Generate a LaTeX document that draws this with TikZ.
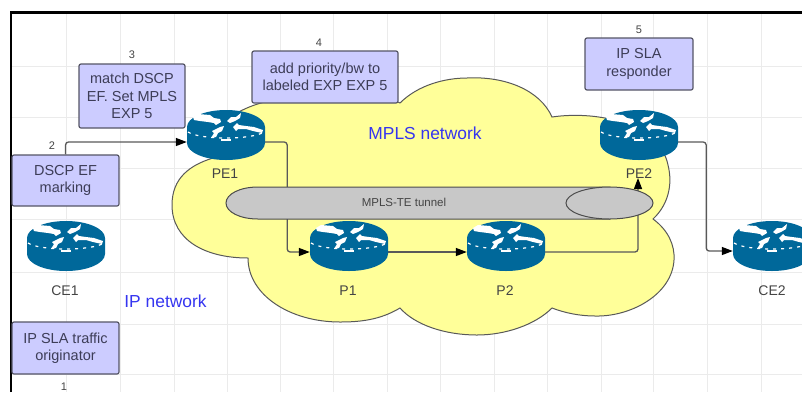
\documentclass[tikz,border=0pt]{standalone}
\usepackage{fontspec}
\setmainfont{Liberation Sans}
\usetikzlibrary{arrows.meta,calc}
\definecolor{routerblue}{HTML}{00689A}
\definecolor{boxfill}{HTML}{CCCCFF}
\definecolor{boxline}{HTML}{555566}
\definecolor{cloudfill}{HTML}{FFFF99}
\definecolor{tunnelfill}{HTML}{C8C8C8}
\definecolor{netblue}{HTML}{3535F0}
\definecolor{labelgrey}{HTML}{444444}
\definecolor{gridgrey}{HTML}{EBEBEB}
\tikzset{
  notebox/.style={draw=boxline,fill=boxfill,line width=1.2pt,rounded corners=2pt,inner sep=0pt,align=center,text=labelgrey!90!blue,font=\fontsize{14.5}{17.2}\selectfont},
  devlabel/.style={text=labelgrey,font=\fontsize{14}{16}\selectfont,inner sep=0pt},
  stepnum/.style={text=labelgrey,font=\fontsize{11}{13}\selectfont,inner sep=0pt},
  netlabel/.style={text=netblue,font=\fontsize{17.4}{20}\selectfont,inner sep=0pt},
  routerslot/.style={minimum width=78pt,minimum height=50pt,inner sep=0pt},
  conn/.style={draw=black!65,line width=1.3pt,rounded corners=3pt,-{Triangle[length=11pt,width=8pt,black]}},
  routericon/.pic={
    \fill[routerblue] (-39,-8) .. controls (-39,-17.4) and (-21.5,-25) .. (0,-25)
      .. controls (21.5,-25) and (39,-17.4) .. (39,-8) -- (39,8)
      .. controls (39,17.4) and (21.5,25) .. (0,25)
      .. controls (-21.5,25) and (-39,17.4) .. (-39,8) -- cycle;
    \fill[white] (-33,-18) -- (-28,-21) -- (-16,-20) -- (-12,-17) -- (-6,-16) -- (-5,-13) -- (-10,-10) -- (-12,-12) -- (-18,-13) -- (-26,-14) -- (-32,-15) -- cycle;
    \fill[white] (1,-14) -- (5,-18) -- (10,-18) -- (15,-22) -- (14,-17) -- (9,-14) -- (4,-12) -- cycle;
    \fill[white] (7,-8) -- (11,-12) -- (13,-10) -- (20,-9) -- (28,-8) -- (37,-5) -- (36,-2) -- (27,-4) -- (20,-6) -- (12,-6) -- (10,-4) -- cycle;
    \fill[white] (-15,3) -- (-12,-2) -- (-14,-4) -- (-6,-8) -- (-2,-9) -- (-4,-4) -- (-8,-2) -- (-10,2) -- cycle;
    \draw[white,line width=1.2pt,dash pattern=on 3pt off 5pt] (-38,-3) .. controls (-26,5) and (26,5) .. (38,-3);
    \fill[white] (-5,3.5) -- (5,3.5) -- (5,5.5) -- (-5,5.5) -- cycle;
  }
}
\begin{document}
\begin{tikzpicture}[x=1pt,y=-1pt]
\useasboundingbox (0,0) rectangle (802,392);
\clip (0,0) rectangle (802,392);
% grid
\foreach \gx in {66,120,174,227,280,333,387,440,494,547,601,653,707,761}
  \draw[gridgrey,line width=1pt] (\gx,12) -- (\gx,392);
\foreach \gy in {66,117,168,219,272,324,374}
  \draw[gridgrey,line width=1pt] (11,\gy) -- (802,\gy);
% frame
\draw[black,line width=2.4pt] (11,392) -- (11,12.5) -- (802,12.5);
% cloud
\draw[fill=cloudfill,draw=black!65,line width=1pt]
  (400,103) .. controls (418,85) and (445,78) .. (467,78)
  .. controls (505,76) and (540,90) .. (552,117)
  .. controls (600,110) and (660,125) .. (668,165)
  .. controls (673,185) and (668,205) .. (653,219)
  .. controls (668,230) and (675,245) .. (674,260)
  .. controls (672,295) and (630,317) .. (595,316)
  .. controls (580,316) and (565,313) .. (552,308)
  .. controls (535,325) and (505,335) .. (477,335)
  .. controls (445,335) and (415,325) .. (400,308)
  .. controls (380,320) and (360,322) .. (340,322)
  .. controls (290,322) and (248,295) .. (248,258)
  .. controls (205,258) and (172,240) .. (172,205)
  .. controls (172,178) and (190,165) .. (213,158)
  .. controls (200,130) and (240,105) .. (275,100)
  .. controls (300,92) and (370,88) .. (400,103) -- cycle;
% router slots
\node[routerslot] (pe1) at (226,135) {};
\node[routerslot] (pe2) at (639,135) {};
\node[routerslot] (ce1) at (66,246) {};
\node[routerslot] (ce2) at (772,246) {};
\node[routerslot] (p1) at (349,246) {};
\node[routerslot] (p2) at (506,246) {};
\coordinate (pe2in) at (638,178);
\node[notebox,minimum width=107pt,minimum height=51pt] (b2) at (65.5,180.5) {DSCP EF\\marking};
% connectors
\draw[conn] (b2.north) |- ([yshift=-7pt]pe1.west);
\draw[conn] ([yshift=-7pt]pe1.east) -- ++(22,0) |- ([yshift=-6pt]p1.west);
\draw[conn] ([yshift=-6pt]p1.east) -- ([yshift=-6pt]p2.west);
\draw[conn] ([yshift=-6pt]p2.east) -| (pe2in);
\draw[conn] ([yshift=-7pt]pe2.east) -- ++(28,0) |- ([yshift=-5pt]ce2.west);
% tunnel
\draw[fill=tunnelfill,draw=black!70,line width=1pt]
  (258,187) -- (610,187) -- (610,219) -- (258,219)
  .. controls (240,219) and (226,212) .. (226,203)
  .. controls (226,194) and (240,187) .. (258,187) -- cycle;
\draw[fill=tunnelfill,draw=black!70,line width=1pt] (609.5,203) ellipse [x radius=43.5,y radius=16];
\node[text=labelgrey,font=\fontsize{11.5}{13}\selectfont,inner sep=0pt] (tunnel) at (404,202.5) {MPLS-TE tunnel};
% routers
\pic at (pe1) {routericon};
\pic at (pe2) {routericon};
\pic at (ce1) {routericon};
\pic at (ce2) {routericon};
\pic at (p1) {routericon};
\pic at (p2) {routericon};
% device labels
\node[devlabel] (lpe1) at (225,174) {PE1};
\node[devlabel] (lpe2) at (639,174) {PE2};
\node[devlabel] (lce1) at (65,291) {CE1};
\node[devlabel] (lce2) at (772,291) {CE2};
\node[devlabel] (lp1) at (348,291) {P1};
\node[devlabel] (lp2) at (505,291) {P2};
% network labels
\node[netlabel] (mpls) at (425,133) {MPLS network};
\node[netlabel] (ipnet) at (165.5,301.5) {IP network};
% boxes
\node[notebox,minimum width=106pt,minimum height=64pt] (b3) at (132,96) {match DSCP\\EF. Set MPLS\\EXP 5};
\node[notebox,minimum width=107pt,minimum height=52pt] (b1) at (65.5,348) {IP SLA traffic\\originator};
\node[notebox,minimum width=146pt,minimum height=52pt] (b4) at (325,77) {add priority/bw to\\labeled EXP EXP 5};
\node[notebox,minimum width=108pt,minimum height=52pt] (b5) at (639,64) {IP SLA\\responder};
% step numbers
\node[stepnum] (n3) at (132,55) {3};
\node[stepnum] (n2) at (52,146) {2};
\node[stepnum] (n1) at (64,386.5) {1};
\node[stepnum] (n4) at (319,43) {4};
\node[stepnum] (n5) at (639,30) {5};
\end{tikzpicture}
\end{document}
